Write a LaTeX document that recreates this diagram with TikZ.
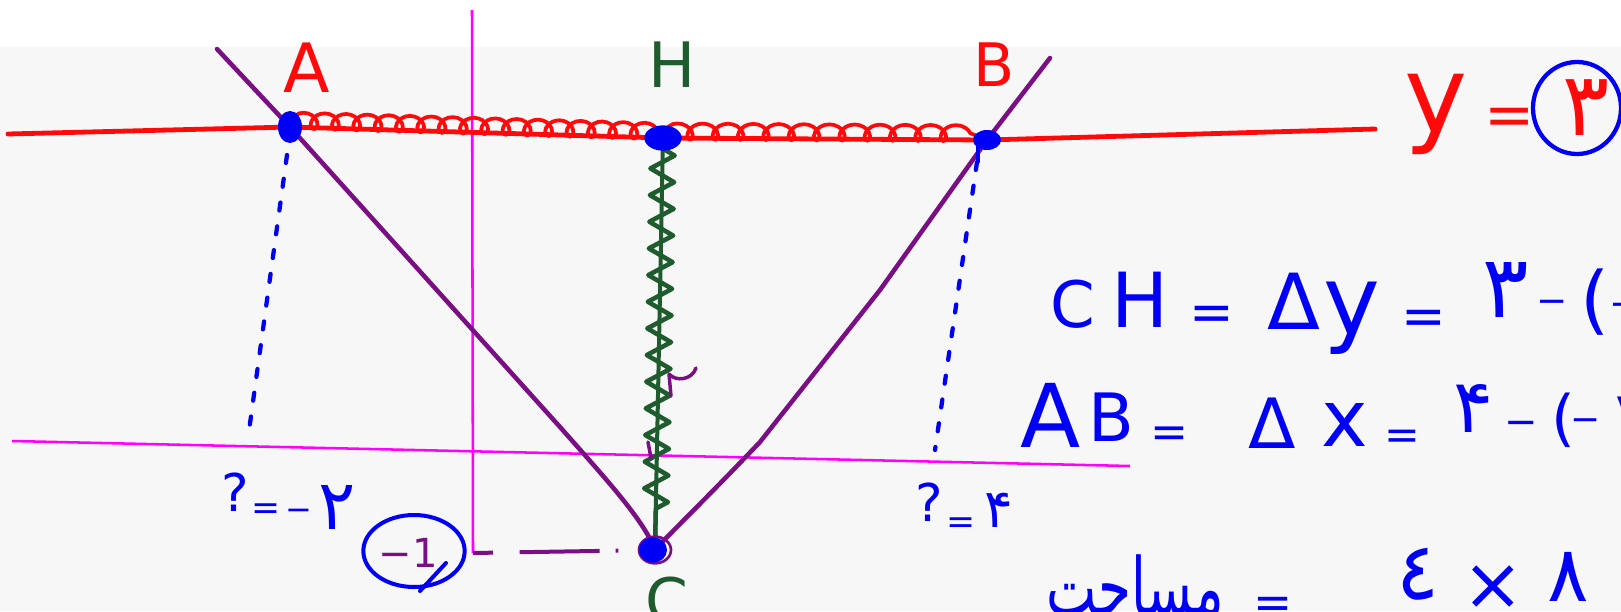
\documentclass[tikz,border=0pt]{standalone}
\usepackage{fontspec}
\setmainfont{DejaVu Sans}
\newfontfamily\arabicfont[Script=Arabic]{DejaVu Sans}
\TeXXeTstate=1
\usetikzlibrary{decorations.pathmorphing}
\definecolor{inkred}{HTML}{FF0A0A}
\definecolor{inkblue}{HTML}{0000F5}
\definecolor{inkmag}{HTML}{FF00FF}
\definecolor{inkpurple}{HTML}{7A0F84}
\definecolor{inkgreen}{HTML}{1E5C2E}
\definecolor{paper}{HTML}{F7F7F7}
\begin{document}
\begin{tikzpicture}[x=0.75pt,y=-0.75pt,
  txt/.style={inner sep=0pt, outer sep=0pt, font=\fontsize{#1}{#1}\selectfont},
  axis/.style={inkmag, line width=1.9pt},
  redline/.style={inkred, line width=3.6pt, line cap=round, line join=round},
  vline/.style={inkpurple, line width=3.4pt, line cap=round, line join=round},
  dotline/.style={inkblue, line width=3.2pt, line cap=round, dash pattern=on 6pt off 12pt},
  pointdot/.style={fill=inkblue}]
% background
\useasboundingbox (0,0) rectangle (1621,611);
\fill[white] (0,0) rectangle (1621,611);
\fill[paper] (0,47) rectangle (1621,611);

% points
\coordinate (A) at (290,127);
\coordinate (H) at (663,138);
\coordinate (B) at (987,140);
\coordinate (C) at (655,550);
\coordinate (Lend) at (8,134);
\coordinate (Rend) at (1375,129);
\coordinate (Atop) at (217,49);
\coordinate (Btop) at (1050,58);
\coordinate (Afoot) at (248,438);
\coordinate (Bfoot) at (935,450);
\coordinate (yaxT) at (472,10);
\coordinate (yaxB) at (473,553);
\coordinate (xaxL) at (12,441);
\coordinate (xaxR) at (1130,466);

% axes
\draw[axis] (yaxT) -- (yaxB);
\draw[axis] (xaxL) -- (xaxR);

% purple dashed level line from -1 to C
\draw[inkpurple, line width=3pt, dash pattern=on 15pt off 20pt on 60pt off 12pt on 2pt off 80pt] (yaxB) -- (C);

% purple V
\draw[vline] (Atop) -- (A) -- (560,427) .. controls (605,478) and (644,520) .. (C);
\draw[vline] (C) .. controls (668,535) and (700,505) .. (760,442) -- (880,290) -- (B) -- (Btop);

% blue projections
\draw[dotline] (A) ++(-3,28) -- (Afoot);
\draw[dotline] (B) ++(-10,22) -- (Bfoot);

% red line y=3
\draw[redline] (Lend) -- (A) -- (H) -- (B) -- (Rend);
\draw[inkred, line width=2.8pt, decorate, decoration={coil, amplitude=6pt, segment length=16pt, aspect=1.0, raise=5pt}] (A) -- (H);
\draw[inkred, line width=2.8pt, decorate, decoration={coil, amplitude=6pt, segment length=19pt, aspect=1.0, raise=5pt}] (H) -- (B);

% green CH
\draw[inkgreen, line width=3pt, line cap=round] (H) -- (C);
\draw[inkgreen, line width=3.4pt, line join=round, decorate, decoration={zigzag, amplitude=9pt, segment length=20pt, pre length=8pt, post length=30pt}] (H) -- (C);

% purple small marks
\draw[vline, line width=2.6pt] (671,396) -- (669,374) .. controls (676,382) and (692,380) .. (696,368);
\draw[vline, line width=2.6pt] (648,442) -- (651,458);

% blue dots
\fill[pointdot] (A) ellipse [x radius=9pt, y radius=12pt];
\fill[pointdot] (H) ellipse [x radius=14pt, y radius=9.5pt];
\fill[pointdot] (B) ellipse [x radius=10.5pt, y radius=7.5pt];
\draw[inkblue, line width=2.5pt, line cap=round] (B) ++(-9,6) -- ++(0,16);
\draw[inkpurple, line width=2pt] (C) ellipse [x radius=12pt, y radius=10pt];
\fill[pointdot] (C) ++(-2,0) ellipse [x radius=10.5pt, y radius=9.5pt];

% point labels
\node[txt=51, text=inkred] (labA) at (307,68) {A};
\node[txt=47, text=inkgreen] (labH) at (672,65) {H};
\node[txt=45, text=inkred] (labB) at (994,65) {B};
\node[txt=46, text=inkgreen] (labC) at (667,600) {C};

% foot values
\node[txt=39, text=inkblue] (q1) at (235,492) {?};
\node[txt=26, text=inkblue] (q1eq) at (266,512) {=};
\node[txt=24, text=inkblue] (q1m) at (299,515) {−};
\node[txt=52, text=inkblue] (q1v) at (337,507) {\arabicfont ۲};
\node[txt=39, text=inkblue] (q2) at (929,502) {?};
\node[txt=26, text=inkblue] (q2eq) at (961,526) {=};
\node[txt=40, text=inkblue] (q2v) at (999,510) {\arabicfont ۴};

% circled -1
\draw[inkblue, line width=3pt] (414,551) ellipse [x radius=38pt, y radius=27pt];
\draw[inkblue, line width=3pt, line cap=round] (446,563) -- (420,591);
\node[txt=30, text=inkpurple] (m1) at (408,553) {−1};

% y = 3
\node[txt=80, text=inkred] (yy) at (1436,114) {y};
\node[txt=45, text=inkred] (yeq) at (1510,122) {=};
\draw[inkblue, line width=3.2pt] (1577,108) ellipse [x radius=33pt, y radius=34.5pt];
\node[txt=66, text=inkred] (y3) at (1586,108) {\arabicfont ۳};

% CH line
\node[txt=48, text=inkblue] (c1) at (1073,304) {C};
\node[txt=57, text=inkblue] (c2) at (1140,300) {H};
\node[txt=40, text=inkblue] (c3) at (1212,318) {=};
\node[txt=58, text=inkblue] (c4) at (1294,301) {Δ};
\node[txt=72, text=inkblue] (c5) at (1352,318) {y};
\node[txt=40, text=inkblue] (c6) at (1424,322) {=};
\node[txt=65, text=inkblue] (c7) at (1506,290) {\arabicfont ۳};
\node[txt=28, text=inkblue] (c8) at (1552,307) {−};
\node[txt=56, text=inkblue] (c9) at (1595,302) {(};
\node[txt=28, text=inkblue] (c10) at (1625,310) {−};

% AB line
\node[txt=66, text=inkblue] (a1) at (1051,415) {A};
\node[txt=50, text=inkblue] (a2) at (1111,417) {B};
\node[txt=34, text=inkblue] (a3) at (1169,437) {=};
\node[txt=52, text=inkblue] (a4) at (1272,423) {Δ};
\node[txt=59, text=inkblue] (a5) at (1345,425) {x};
\node[txt=32, text=inkblue] (a6) at (1402,440) {=};
\node[txt=56, text=inkblue] (a7) at (1474,408) {\arabicfont ۴};
\node[txt=30, text=inkblue] (a8) at (1521,428) {−};
\node[txt=46, text=inkblue] (a9) at (1563,420) {(};
\node[txt=27, text=inkblue] (a10) at (1586,425) {−};
\node[txt=55, text=inkblue] (a11) at (1634,420) {\arabicfont ۲};

% area line
\node[txt=40, text=inkblue] (ar1) at (1135,586) {\scalebox{1}[1.5]{\arabicfont\beginR مساحت\endR}};
\node[txt=35, text=inkblue] (ar2) at (1273,608) {=};
\node[txt=60, text=inkblue] (ar3) at (1418,574) {\arabicfont ٤};
\node[txt=55, text=inkblue] (ar4) at (1493,588) {×};
\node[txt=58, text=inkblue] (ar5) at (1568,577) {\arabicfont ٨};
\end{tikzpicture}
\end{document}
